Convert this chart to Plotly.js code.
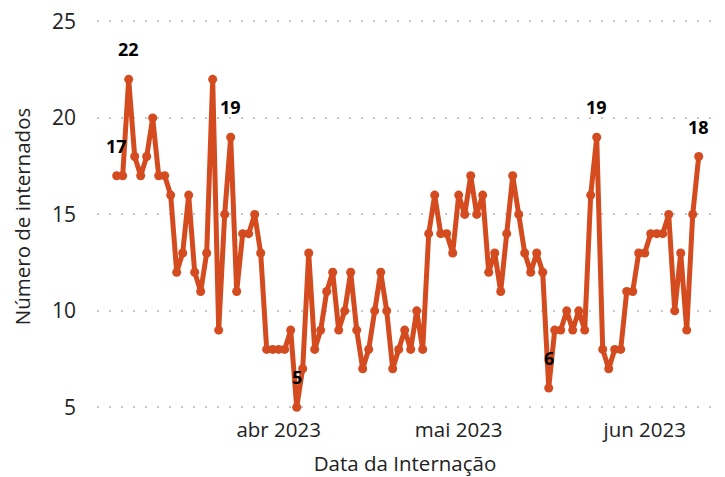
<!DOCTYPE html>
<html>
<head>
<meta charset="utf-8">
<script src="https://cdn.plot.ly/plotly-3.0.1.min.js"></script>
<style>html,body{margin:0;padding:0;background:#fff;}#chart{width:725px;height:477px;}</style>
</head>
<body>
<div id="chart"></div>
<script>
// Daily admissions, starting 2023-03-05
const startDate = '2023-03-05';
const values = [
  17,17,22,18,17,18,20,17,17,16,12,13,16,12,11,13,22,9,15,19,11,14,14,15,13,8,8,8,8,9,5,
  7,13,8,9,11,12,9,10,12,9,7,8,10,12,10,7,8,9,8,10,8,14,16,14,14,
  13,16,15,17,15,16,12,13,11,14,17,15,13,12,13,12,
  6,9,9,10,9,10,9,16,19,8,7,8,8,11,11,13,13,14,14,14,15,10,13,9,15,18
];
const labelIndex = [0, 2, 19, 30, 72, 80, 97];
const xTickVals = ['2023-04-01', '2023-05-01', '2023-06-01'];
const xTickText = ['abr 2023', 'mai 2023', 'jun 2023'];
const yTickVals = [5, 10, 15, 20, 25];

const dates = [];
const d0 = new Date(startDate + 'T00:00:00Z');
for (let i = 0; i < values.length; i++) {
  const d = new Date(d0.getTime() + i * 86400000);
  dates.push(d.toISOString().slice(0, 10));
}

const lineColor = '#D34B1F';
const textColor = '#222222';
const trace = {
  x: dates, y: values, type: 'scatter', mode: 'lines+markers',
  line: {color: lineColor, width: 5},
  marker: {color: lineColor, size: 9},
  hoverinfo: 'skip'
};

const annotations = labelIndex.map(i => ({
  x: dates[i], y: values[i], text: '<b>' + values[i] + '</b>',
  showarrow: false, yshift: 30, xanchor: 'center', yanchor: 'middle',
  font: {family: 'Open Sans, sans-serif', size: 18, color: '#000'}
}));

const layout = {
  width: 725, height: 477,
  margin: {l: 97, r: 12, t: 18, b: 62},
  paper_bgcolor: '#fff', plot_bgcolor: '#fff',
  showlegend: false,
  font: {family: 'Open Sans, sans-serif', size: 21, color: textColor},
  xaxis: {
    type: 'date',
    range: ['2023-03-01 17:16', '2023-06-12 09:07'],
    tickvals: xTickVals, ticktext: xTickText,
    showgrid: false, zeroline: false, showline: false, ticks: '',
    tickfont: {size: 20.5, color: textColor},
    title: {text: 'Data da Internação', font: {size: 20.5, color: textColor}, standoff: 15},
    automargin: false
  },
  yaxis: {
    range: [4.6, 25.18],
    tickvals: yTickVals,
    showgrid: true, gridcolor: '#c8c8c8', gridwidth: 2, griddash: '2px,10px',
    zeroline: false, showline: false, ticks: '',
    ticklabelstandoff: 20,
    tickfont: {size: 21, color: textColor},
    title: {text: 'Número de internados', font: {size: 20.5, color: textColor}, standoff: 15},
    automargin: false
  },
  annotations: annotations
};

Plotly.newPlot('chart', [trace], layout, {displayModeBar: false, staticPlot: true});
</script>
</body>
</html>
